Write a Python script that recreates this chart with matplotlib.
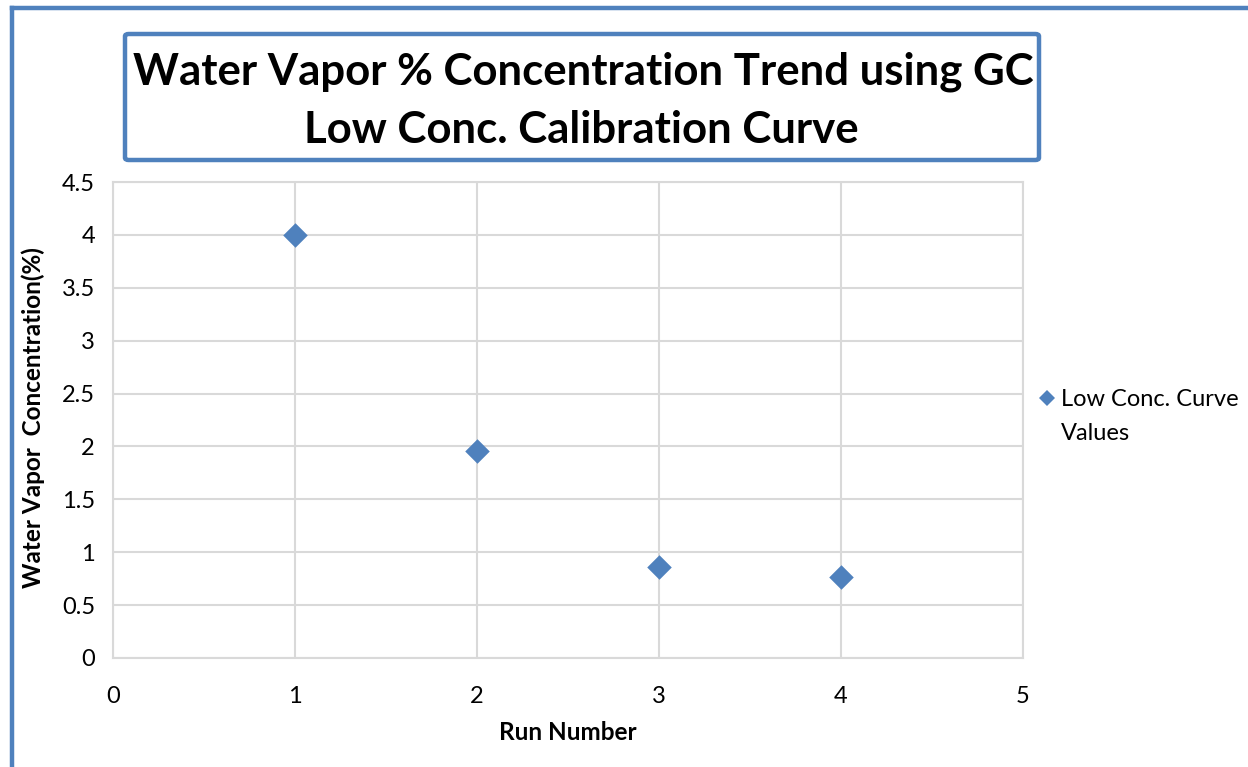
import matplotlib
matplotlib.use("Agg")
import matplotlib.pyplot as plt
from matplotlib.patches import FancyBboxPatch
from matplotlib.lines import Line2D

run_number = [1, 2, 3, 4]
water_vapor = [4.0, 1.96, 0.86, 0.77]
series_name_lines = ["Low Conc. Curve", "Values"]
title_lines = ["Water Vapor % Concentration Trend using GC", "Low Conc. Calibration Curve"]
x_label = "Run Number"
y_label = "Water Vapor  Concentration(%)"
x_ticks = [0, 1, 2, 3, 4, 5]
y_ticks = [0, 0.5, 1, 1.5, 2, 2.5, 3, 3.5, 4, 4.5]

plt.rcParams['font.family'] = ['Lato', 'DejaVu Sans']
W, H = 1248, 767
fig = plt.figure(figsize=(W / 100, H / 100), dpi=100)
blue = '#4f81bd'
grid = '#d9d9d9'

def fx(px): return px / W
def fy(py): return 1 - py / H

# outer chart border (left and top visible)
fig.add_artist(Line2D([fx(11.5), fx(11.5)], [fy(7.5), fy(767)], color=blue, lw=3.2, transform=fig.transFigure))
fig.add_artist(Line2D([fx(11.5), fx(1248)], [fy(7.5), fy(7.5)], color=blue, lw=3.2, transform=fig.transFigure))

# title box
box = FancyBboxPatch((fx(125), fy(160)), fx(1039) - fx(125), fy(34) - fy(160),
                     boxstyle="round,pad=0,rounding_size=0.003", transform=fig.transFigure,
                     facecolor='white', edgecolor=blue, lw=3.2)
fig.add_artist(box)
fig.text(fx(583), fy(72), title_lines[0], ha='center', va='center', fontsize=31.5, fontweight='bold')
fig.text(fx(581), fy(130), title_lines[1], ha='center', va='center', fontsize=31.5, fontweight='bold')

ax = fig.add_axes([fx(113), fy(658), fx(1023) - fx(113), fy(182) - fy(658)])
ax.scatter(run_number, water_vapor, marker='D', s=12.5 ** 2, color=blue, zorder=3,
           label=" ".join(series_name_lines), linewidths=0)
ax.set_xlim(0, 5)
ax.set_ylim(0, 4.5)
ax.set_xticks(x_ticks)
ax.set_yticks(y_ticks)
ax.set_xticklabels([str(v) for v in x_ticks])
ax.set_yticklabels([f"{v:g}" for v in y_ticks])
ax.tick_params(length=0, labelsize=17, pad=13)
ax.tick_params(axis='x', pad=20)
ax.grid(True, color=grid, lw=1.5)
ax.set_axisbelow(True)
for s in ax.spines.values():
    s.set_color(grid)
    s.set_linewidth(1.5)

fig.text(fx(568), fy(733), x_label, ha='center', va='center', fontsize=17.5, fontweight='bold')
fig.text(fx(33), fy(418), y_label, ha='center', va='center', fontsize=17.5, fontweight='bold', rotation=90)

# legend (drawn manually to match layout)
fig.add_artist(Line2D([fx(1047)], [fy(398)], marker='D', ms=8.2, color=blue, lw=0,
                      markeredgewidth=0, transform=fig.transFigure))
fig.text(fx(1061), fy(406), series_name_lines[0], ha='left', va='baseline', fontsize=17)
fig.text(fx(1061), fy(440), series_name_lines[1], ha='left', va='baseline', fontsize=17)

fig.savefig("out.png", dpi=100)
